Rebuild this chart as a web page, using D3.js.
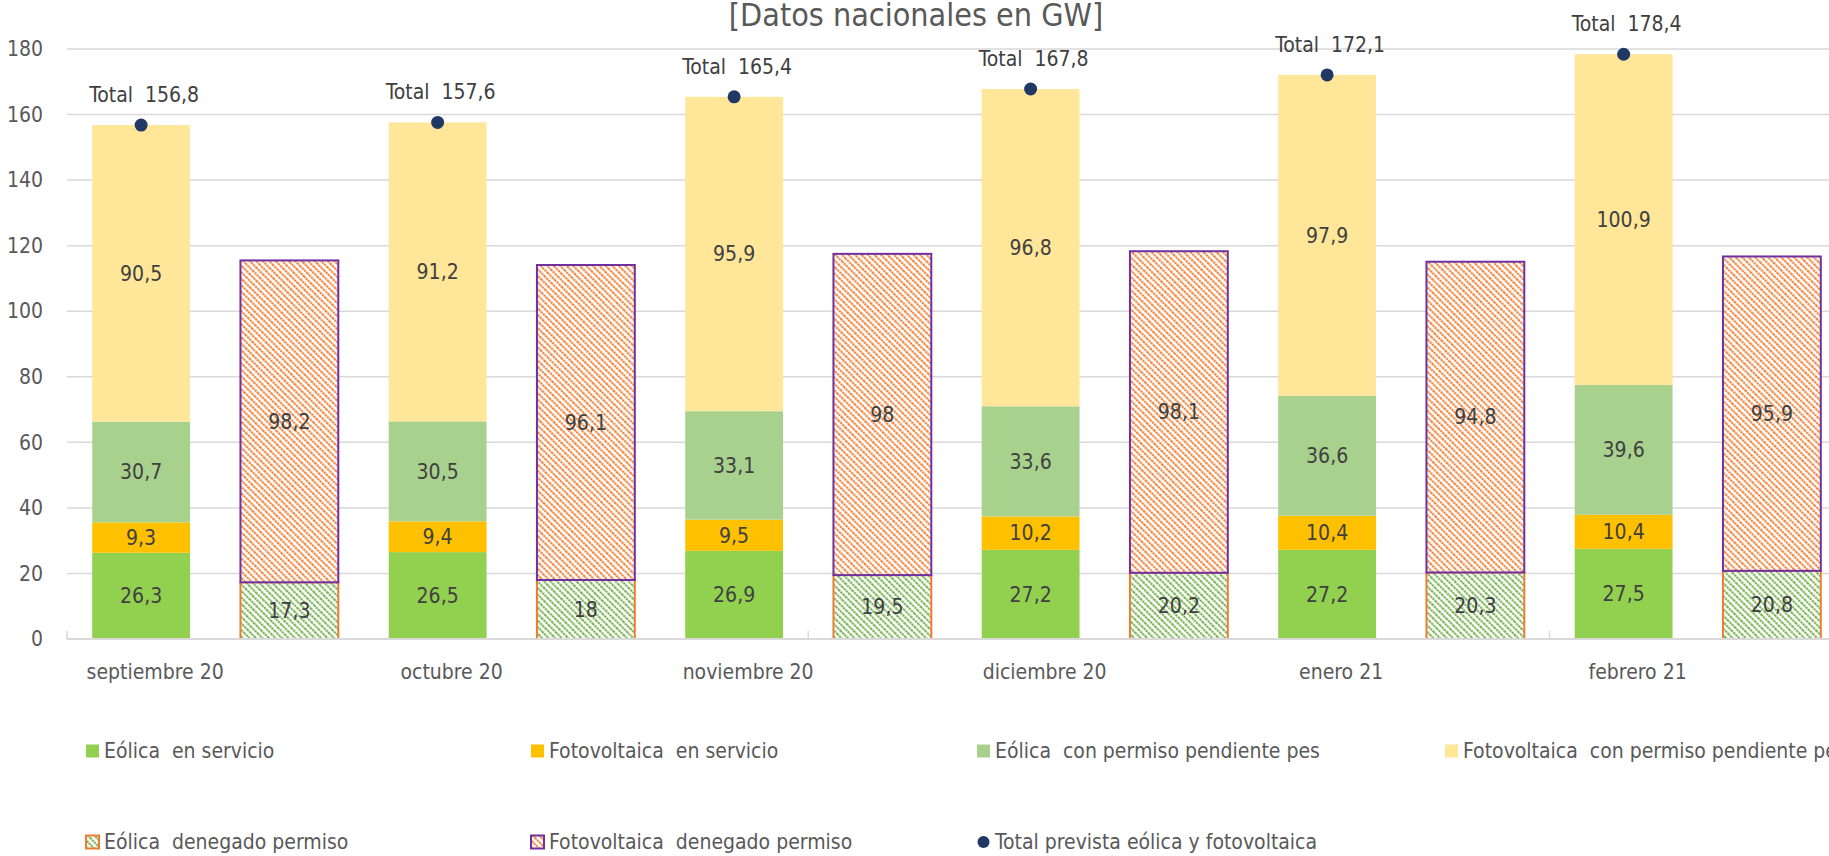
<!DOCTYPE html>
<html>
<head>
<meta charset="utf-8">
<script src="https://cdn.jsdelivr.net/npm/d3@7"></script>
<style>
  body { margin: 0; background: #fff; overflow: hidden; }
  svg text { font-family: "Liberation Sans Narrow", "DejaVu Sans Condensed", "Roboto", sans-serif; white-space: pre; }
</style>
</head>
<body>
<div id="chart"></div>
<script>
// months on the category axis
const months = ['septiembre 20', 'octubre 20', 'noviembre 20', 'diciembre 20', 'enero 21', 'febrero 21'];

// stacked bar 1 (installed + pending)
const eolicaServicio = [26.3, 26.5, 26.9, 27.2, 27.2, 27.5];
const fotoServicio = [9.3, 9.4, 9.5, 10.2, 10.4, 10.4];
const eolicaPendiente = [30.7, 30.5, 33.1, 33.6, 36.6, 39.6];
const fotoPendiente = [90.5, 91.2, 95.9, 96.8, 97.9, 100.9];

// stacked bar 2 (denied)
const eolicaDenegado = [17.3, 18, 19.5, 20.2, 20.3, 20.8];
const fotoDenegado = [98.2, 96.1, 98, 98.1, 94.8, 95.9];

// total line (markers only)
const totalPrevista = [156.8, 157.6, 165.4, 167.8, 172.1, 178.4];

const yTicks = [0, 20, 40, 60, 80, 100, 120, 140, 160, 180];

const W = 1829, H = 856;
const left = 67, slot = 148.25; // plot runs past the right edge, like the original
const fmt = v => String(v).replace('.', ',');

const svg = d3.select('#chart').append('svg')
    .attr('width', W)
    .attr('height', H);

const defs = svg.append('defs');
function hatch(id, light, dark) {
    const p = defs.append('pattern')
        .attr('id', id)
        .attr('patternUnits', 'userSpaceOnUse')
        .attr('width', 4.6).attr('height', 10)
        .attr('patternTransform', 'rotate(-45)');
    p.append('rect').attr('width', 4.6).attr('height', 10).attr('fill', '#fff');
    p.append('line').attr('x1', 1.2).attr('y1', 0).attr('x2', 1.2).attr('y2', 10)
        .attr('stroke', light).attr('stroke-width', 1.8);
    p.append('line').attr('x1', 1.2).attr('y1', 0).attr('x2', 1.2).attr('y2', 10)
        .attr('stroke', dark).attr('stroke-width', 1.8).attr('stroke-dasharray', '2 1');
}
hatch('hatchGreen', '#C5E0B4', '#70AD47');
hatch('hatchOrange', '#F8CBAD', '#ED7D31');

const x0 = d3.scaleBand().domain(months).range([left, left + slot * 12]);
const x1 = d3.scaleBand().domain(['main', 'denied']).range([0, x0.bandwidth()])
    .paddingInner(0.34).paddingOuter(0.17);
const y = d3.scaleLinear().domain([0, 180]).range([639, 49]);

// title (top is cut by the frame, as in the original)
svg.append('text')
    .attr('x', 916).attr('y', 26)
    .attr('text-anchor', 'middle')
    .attr('font-size', 32)
    .attr('fill', '#595959')
    .text('[Datos nacionales en GW]');

// gridlines
svg.append('g').selectAll('line')
    .data(yTicks.filter(d => d > 0))
    .enter().append('line')
    .attr('x1', left).attr('x2', W)
    .attr('y1', d => y(d)).attr('y2', d => y(d))
    .attr('stroke', '#D9D9D9').attr('stroke-width', 1.5);

// y axis labels
const yAxis = svg.append('g')
    .attr('transform', `translate(${left},0)`)
    .call(d3.axisLeft(y).tickValues(yTicks).tickSize(0).tickPadding(24));
yAxis.select('.domain').remove();
yAxis.selectAll('text').attr('font-size', 21).attr('fill', '#595959')
    .style('font-family', null);

// series definitions
const mainSeries = [
    { name: 'Eólica  en servicio', values: eolicaServicio, fill: '#92D050' },
    { name: 'Fotovoltaica  en servicio', values: fotoServicio, fill: '#FFC000' },
    { name: 'Eólica  con permiso pendiente pes', values: eolicaPendiente, fill: '#A9D18E' },
    { name: 'Fotovoltaica  con permiso pendiente pes', values: fotoPendiente, fill: '#FFE699' }
];
const deniedSeries = [
    { name: 'Eólica  denegado permiso', values: eolicaDenegado, fill: 'url(#hatchGreen)', stroke: '#ED7D31' },
    { name: 'Fotovoltaica  denegado permiso', values: fotoDenegado, fill: 'url(#hatchOrange)', stroke: '#7030A0' }
];

function stackRows(series, key) {
    const rows = [];
    months.forEach((m, i) => {
        let base = 0;
        series.forEach(s => {
            const v = s.values[i];
            rows.push({ month: m, key, y0: base, y1: base + v, v, s });
            base += v;
        });
    });
    return rows;
}
const segs = stackRows(mainSeries, 'main').concat(stackRows(deniedSeries, 'denied'));

const bars = svg.append('g');
bars.selectAll('rect')
    .data(segs)
    .enter().append('rect')
    .attr('x', d => x0(d.month) + x1(d.key))
    .attr('width', x1.bandwidth())
    .attr('y', d => y(d.y1))
    .attr('height', d => y(d.y0) - y(d.y1))
    .attr('fill', d => d.s.fill)
    .attr('stroke', d => d.s.stroke || 'none')
    .attr('stroke-width', 2);

// x axis line and ticks
svg.append('line')
    .attr('x1', left).attr('x2', W)
    .attr('y1', y(0)).attr('y2', y(0))
    .attr('stroke', '#D9D9D9').attr('stroke-width', 2);
svg.append('g').selectAll('line')
    .data([0, 5, 10])
    .enter().append('line')
    .attr('x1', d => left + d * x0.step() / 2).attr('x2', d => left + d * x0.step() / 2)
    .attr('y1', y(0)).attr('y2', y(0) - 8)
    .attr('stroke', '#D9D9D9').attr('stroke-width', 1.5);

// data labels
svg.append('g').selectAll('text')
    .data(segs)
    .enter().append('text')
    .attr('x', d => x0(d.month) + x1(d.key) + x1.bandwidth() / 2)
    .attr('y', d => (y(d.y0) + y(d.y1)) / 2)
    .attr('dy', '0.35em')
    .attr('text-anchor', 'middle')
    .attr('font-size', 21)
    .attr('fill', '#404040')
    .text(d => fmt(d.v));

// month labels
svg.append('g').selectAll('text')
    .data(months)
    .enter().append('text')
    .attr('x', d => x0(d) + x1('main') + x1.bandwidth() / 2 + 14)
    .attr('y', 679)
    .attr('text-anchor', 'middle')
    .attr('font-size', 21)
    .attr('fill', '#595959')
    .text(d => d);

// total markers
const cx = m => x0(m) + x1('main') + x1.bandwidth() / 2;
svg.append('g').selectAll('circle')
    .data(months)
    .enter().append('circle')
    .attr('cx', d => cx(d))
    .attr('cy', (d, i) => y(totalPrevista[i]))
    .attr('r', 6.5)
    .attr('fill', '#1F3864');
svg.append('g').selectAll('text')
    .data(months)
    .enter().append('text')
    .attr('x', d => cx(d) + 3)
    .attr('y', (d, i) => y(totalPrevista[i]) - 23)
    .attr('text-anchor', 'middle')
    .attr('font-size', 21)
    .attr('fill', '#404040')
    .text((d, i) => 'Total  ' + fmt(totalPrevista[i]));

// legend
const legendItems = [
    { s: mainSeries[0], x: 86, y: 751 },
    { s: mainSeries[1], x: 531, y: 751 },
    { s: mainSeries[2], x: 977, y: 751 },
    { s: mainSeries[3], x: 1445, y: 751 },
    { s: deniedSeries[0], x: 86, y: 842 },
    { s: deniedSeries[1], x: 531, y: 842 },
    { s: { name: 'Total prevista eólica y fotovoltaica', dot: true }, x: 977, y: 842 }
];
const leg = svg.append('g').selectAll('g')
    .data(legendItems)
    .enter().append('g')
    .attr('transform', d => `translate(${d.x},${d.y})`);
leg.each(function(d) {
    const g = d3.select(this);
    if (d.s.dot) {
        g.append('circle').attr('cx', 6.5).attr('cy', 0).attr('r', 6).attr('fill', '#1F3864');
    } else {
        g.append('rect')
            .attr('x', 0).attr('y', -6.5).attr('width', 13).attr('height', 13)
            .attr('fill', d.s.fill)
            .attr('stroke', d.s.stroke || 'none')
            .attr('stroke-width', 2);
    }
});
leg.append('text')
    .attr('x', 18).attr('y', 0).attr('dy', '0.35em')
    .attr('font-size', 21)
    .attr('fill', '#595959')
    .text(d => d.s.name);
</script>
</body>
</html>
